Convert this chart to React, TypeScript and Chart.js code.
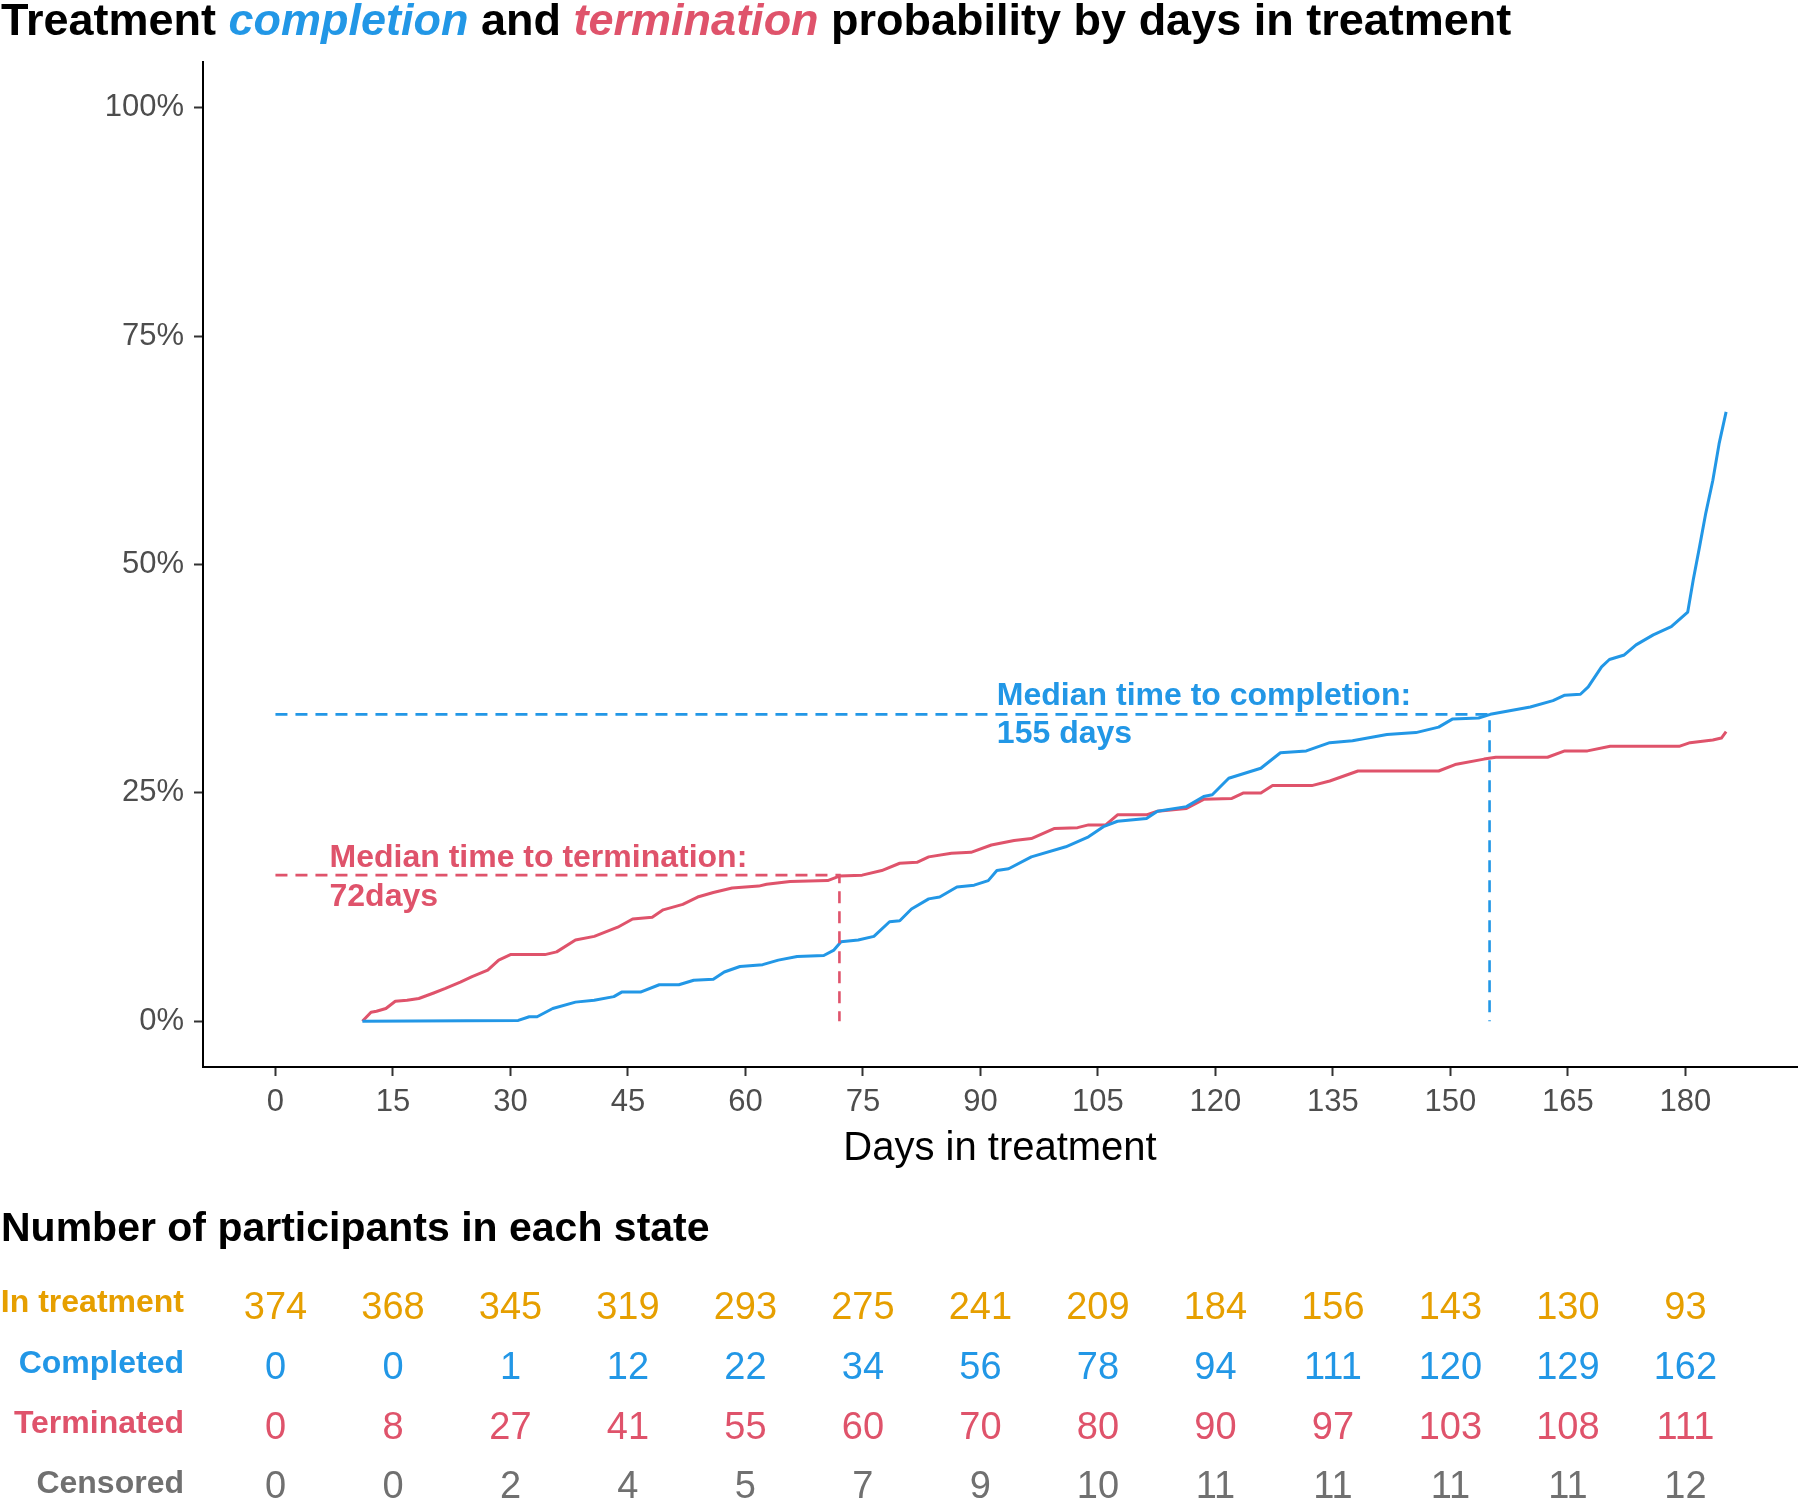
import React, { useEffect, useRef } from 'react';
import { Chart, registerables } from 'chart.js';

Chart.register(...registerables);

const FONT = '"Liberation Sans", Arial, Helvetica, sans-serif';
const BLUE = '#2297E6';
const RED = '#DF536B';
const ORANGE = '#E69F00';
const GRAY = '#707070';
const TICK_GRAY = '#4D4D4D';

// Axis ticks
const xTicks = [0, 15, 30, 45, 60, 75, 90, 105, 120, 135, 150, 165, 180];
const yTicks = [0, 25, 50, 75, 100];

// Cumulative completion probability (%) by day
const completionDays = [11.1, 31.0, 32.4, 33.4, 35.4, 38.3, 40.7, 43.2, 44.2, 46.6, 49.0, 51.5, 53.4, 55.9, 57.3, 59.3, 62.2, 64.2, 66.6, 70.0, 71.3, 72.2, 74.4, 76.4, 78.4, 79.7, 81.2, 83.4, 84.8, 87.0, 89.2, 91.0, 92.1, 93.6, 96.5, 100.9, 103.8, 105.7, 107.5, 111.2, 112.6, 116.3, 118.5, 119.6, 121.7, 125.8, 128.3, 131.6, 134.6, 137.5, 141.9, 145.6, 148.5, 150.3, 153.6, 155.1, 160.2, 163.1, 164.6, 166.6, 167.6, 169.3, 170.3, 172.2, 173.7, 175.9, 178.2, 180.3, 181.0, 181.8, 182.6, 183.5, 184.3, 185.2];
const completionPct = [0, 0.1, 0.5, 0.5, 1.4, 2.1, 2.3, 2.7, 3.2, 3.2, 4.0, 4.0, 4.5, 4.6, 5.4, 6.0, 6.2, 6.7, 7.1, 7.2, 7.8, 8.7, 8.9, 9.3, 10.9, 11.0, 12.3, 13.4, 13.6, 14.7, 14.9, 15.4, 16.5, 16.7, 18.0, 19.1, 20.2, 21.3, 21.9, 22.2, 23.0, 23.5, 24.6, 24.8, 26.6, 27.7, 29.4, 29.6, 30.5, 30.7, 31.4, 31.6, 32.2, 33.1, 33.2, 33.6, 34.4, 35.1, 35.7, 35.8, 36.6, 38.8, 39.6, 40.1, 41.2, 42.3, 43.2, 44.8, 48.3, 51.9, 55.6, 59.2, 63.2, 66.7];

// Cumulative termination probability (%) by day
const terminationDays = [11.1, 12.2, 12.9, 14.1, 15.3, 16.8, 18.3, 20.2, 21.7, 23.6, 25.1, 27.1, 28.5, 30.0, 34.4, 35.9, 38.3, 40.7, 43.7, 45.6, 48.1, 49.5, 52.0, 53.9, 55.9, 58.3, 61.7, 62.7, 65.7, 70.5, 72.0, 74.9, 77.4, 79.7, 81.9, 83.4, 86.3, 88.8, 91.4, 94.3, 96.5, 99.4, 102.4, 103.8, 106.0, 107.5, 111.2, 112.6, 116.3, 118.5, 122.1, 123.6, 125.8, 127.3, 132.3, 134.6, 138.2, 148.5, 150.6, 154.3, 155.8, 162.4, 164.6, 167.5, 170.4, 179.2, 180.6, 183.5, 184.6, 185.2];
const terminationPct = [0, 1.0, 1.1, 1.4, 2.2, 2.3, 2.5, 3.1, 3.6, 4.3, 4.9, 5.6, 6.7, 7.3, 7.3, 7.6, 8.9, 9.3, 10.3, 11.2, 11.4, 12.2, 12.8, 13.6, 14.1, 14.6, 14.8, 15.0, 15.3, 15.4, 15.9, 16.0, 16.5, 17.3, 17.4, 18.0, 18.4, 18.5, 19.3, 19.8, 20.0, 21.1, 21.2, 21.5, 21.5, 22.6, 22.6, 23.0, 23.3, 24.3, 24.4, 25.0, 25.0, 25.8, 25.8, 26.3, 27.4, 27.4, 28.1, 28.7, 28.9, 28.9, 29.6, 29.6, 30.1, 30.1, 30.5, 30.8, 31.0, 31.7];

// Medians
const medianCompletionDay = 155;
const medianCompletionPct = 33.6;
const medianTerminationDay = 72;
const medianTerminationPct = 16.0;

// Risk table
const riskTimes = [0, 15, 30, 45, 60, 75, 90, 105, 120, 135, 150, 165, 180];
const riskRowLabels = ['In treatment', 'Completed', 'Terminated', 'Censored'];
const inTreatment = [374, 368, 345, 319, 293, 275, 241, 209, 184, 156, 143, 130, 93];
const completed = [0, 0, 1, 12, 22, 34, 56, 78, 94, 111, 120, 129, 162];
const terminated = [0, 8, 27, 41, 55, 60, 70, 80, 90, 97, 103, 108, 111];
const censored = [0, 0, 2, 4, 5, 7, 9, 10, 11, 11, 11, 11, 12];

const titleParts = [
  { text: 'Treatment ', color: '#000000', italic: false },
  { text: 'completion', color: BLUE, italic: true },
  { text: ' and ', color: '#000000', italic: false },
  { text: 'termination', color: RED, italic: true },
  { text: ' probability by days in treatment', color: '#000000', italic: false },
];

const overlayPlugin = {
  id: 'overlay',
  afterDraw(chart: any) {
    const ctx = chart.ctx as CanvasRenderingContext2D;
    const xs = chart.scales.x;
    const ys = chart.scales.y;
    ctx.save();

    // Title
    ctx.textBaseline = 'alphabetic';
    ctx.textAlign = 'left';
    let tx = 1;
    for (const p of titleParts) {
      ctx.font = `${p.italic ? 'italic ' : ''}bold 45px ${FONT}`;
      ctx.fillStyle = p.color;
      ctx.fillText(p.text, tx, 34.5);
      tx += ctx.measureText(p.text).width;
    }

    // Median annotations
    ctx.font = `bold 32px ${FONT}`;
    ctx.fillStyle = BLUE;
    const cx = xs.getPixelForValue(92.1);
    const cy = ys.getPixelForValue(34.6);
    ctx.fillText('Median time to completion:', cx, cy);
    ctx.fillText(`${medianCompletionDay} days`, cx, cy + 38);

    ctx.fillStyle = RED;
    const rx = xs.getPixelForValue(6.9);
    const ry = ys.getPixelForValue(16.9);
    ctx.fillText('Median time to termination:', rx, ry);
    ctx.fillText(`${medianTerminationDay}days`, rx, ry + 39);

    // Risk table
    ctx.fillStyle = '#000000';
    ctx.font = `bold 41px ${FONT}`;
    ctx.fillText('Number of participants in each state', 1, 1241);

    const rows = [inTreatment, completed, terminated, censored];
    const colors = [ORANGE, BLUE, RED, GRAY];
    const numBase = [1319, 1379, 1439, 1498];
    const labBase = [1312, 1373, 1433, 1493];
    rows.forEach((row, ri) => {
      ctx.fillStyle = colors[ri];
      ctx.font = `bold 32px ${FONT}`;
      ctx.textAlign = 'right';
      ctx.fillText(riskRowLabels[ri], 184, labBase[ri]);
      ctx.font = `38px ${FONT}`;
      ctx.textAlign = 'center';
      row.forEach((v, ci) => {
        ctx.fillText(String(v), xs.getPixelForValue(riskTimes[ci]), numBase[ri]);
      });
    });
    ctx.restore();
  },
};

export default function App() {
  const ref = useRef<HTMLCanvasElement | null>(null);

  useEffect(() => {
    if (!ref.current) return;
    const compPts = completionDays.map((d, i) => ({ x: d, y: completionPct[i] }));
    const termPts = terminationDays.map((d, i) => ({ x: d, y: terminationPct[i] }));
    const compMedian = [
      { x: 0, y: medianCompletionPct },
      { x: medianCompletionDay, y: medianCompletionPct },
      { x: medianCompletionDay, y: 0 },
    ];
    const termMedian = [
      { x: 0, y: medianTerminationPct },
      { x: medianTerminationDay, y: medianTerminationPct },
      { x: medianTerminationDay, y: 0 },
    ];

    const chart = new Chart(ref.current, {
      type: 'line',
      data: {
        datasets: [
          {
            label: 'Completion median',
            data: compMedian,
            borderColor: BLUE,
            borderWidth: 2.6,
            borderDash: [12, 8],
            pointRadius: 0,
            fill: false,
            tension: 0,
          },
          {
            label: 'Termination median',
            data: termMedian,
            borderColor: RED,
            borderWidth: 2.6,
            borderDash: [12, 8],
            pointRadius: 0,
            fill: false,
            tension: 0,
          },
          {
            label: 'Completion',
            data: compPts,
            borderColor: BLUE,
            borderWidth: 3,
            pointRadius: 0,
            fill: false,
            tension: 0,
            borderJoinStyle: 'round',
          },
          {
            label: 'Termination',
            data: termPts,
            borderColor: RED,
            borderWidth: 3,
            pointRadius: 0,
            fill: false,
            tension: 0,
            borderJoinStyle: 'round',
          },
        ],
      },
      options: {
        responsive: false,
        animation: false,
        devicePixelRatio: 1,
        layout: { padding: { left: 0, top: 62, right: 3, bottom: 323 } },
        plugins: {
          legend: { display: false },
          tooltip: { enabled: false },
          title: { display: false },
        },
        scales: {
          x: {
            type: 'linear',
            min: -9.25,
            max: 194.25,
            afterBuildTicks: (s: any) => {
              s.ticks = xTicks.map((v) => ({ value: v }));
            },
            afterFit: (s: any) => {
              s.height = 110;
            },
            border: { display: true, color: '#000000', width: 2 },
            grid: {
              display: true,
              drawOnChartArea: false,
              drawTicks: true,
              tickLength: 9,
              tickColor: '#333333',
              tickWidth: 2,
            },
            ticks: {
              autoSkip: false,
              maxRotation: 0,
              color: TICK_GRAY,
              padding: 8,
              font: { family: FONT, size: 31 },
              callback: (v: any) => String(v),
            },
            title: {
              display: true,
              text: 'Days in treatment',
              color: '#000000',
              font: { family: FONT, size: 40 },
              padding: { top: 0, bottom: 4 },
            },
          },
          y: {
            type: 'linear',
            min: -5,
            max: 105,
            afterBuildTicks: (s: any) => {
              s.ticks = yTicks.map((v) => ({ value: v }));
            },
            afterFit: (s: any) => {
              s.width = 203;
            },
            border: { display: true, color: '#000000', width: 2 },
            grid: {
              display: true,
              drawOnChartArea: false,
              drawTicks: true,
              tickLength: 9,
              tickColor: '#333333',
              tickWidth: 2,
            },
            ticks: {
              color: TICK_GRAY,
              padding: 10,
              font: { family: FONT, size: 31 },
              callback: (v: any) => `${v}%`,
            },
          },
        },
      },
      plugins: [overlayPlugin],
    } as any);

    return () => chart.destroy();
  }, []);

  return (
    <div style={{ position: 'absolute', left: 0, top: 0, width: 1800, height: 1500, background: '#ffffff' }}>
      <canvas ref={ref} width={1800} height={1500} style={{ display: 'block', width: 1800, height: 1500 }} />
    </div>
  );
}
